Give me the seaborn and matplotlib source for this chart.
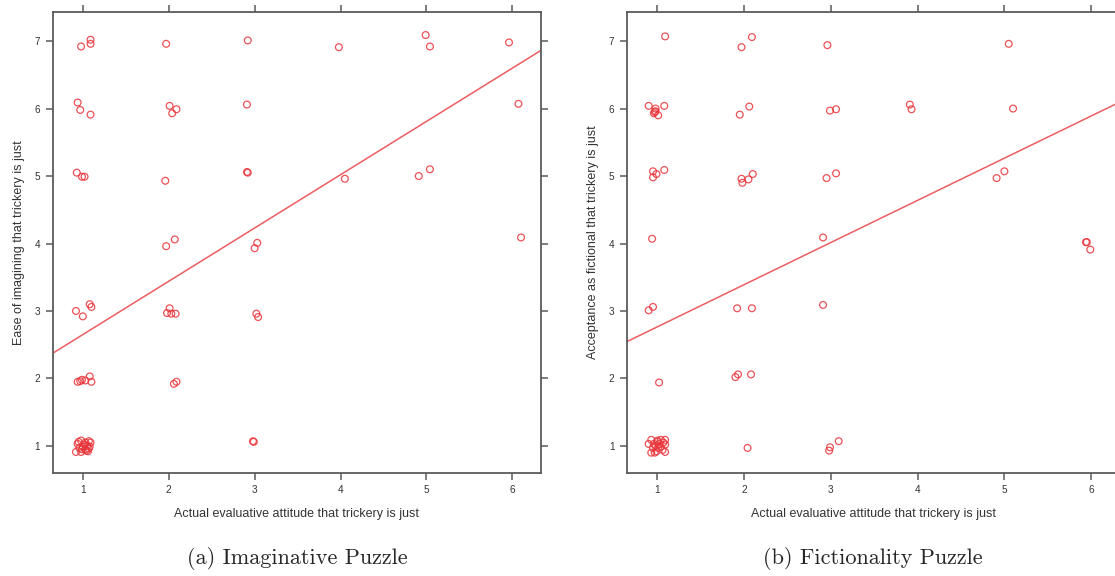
import matplotlib
matplotlib.use("Agg")
import matplotlib.pyplot as plt
import seaborn as sns

# panel (a): imaginative puzzle, jittered responses
imag_x = [0.98, 1.09, 1.09, 1.97, 2.92, 3.98, 4.99, 5.04, 5.96,
          0.94, 0.97, 1.09, 2.01, 2.09, 2.04, 2.91, 6.07,
          0.93, 0.99, 1.02, 1.96, 2.91, 2.92, 4.05, 4.91, 5.04,
          1.97, 2.07, 3.00, 3.03, 6.10,
          0.92, 1.00, 1.08, 1.10, 2.01, 1.98, 2.03, 2.08, 3.02, 3.04,
          0.94, 0.97, 0.99, 1.08, 1.10, 1.03, 2.06, 2.09,
          2.98, 2.99,
          0.92, 0.98, 0.94, 1.00, 1.03, 1.07, 1.08, 1.06, 0.98, 1.03,
          1.09, 1.02, 0.96, 1.05, 0.99, 1.07, 0.95, 1.04]
imag_y = [6.92, 7.02, 6.96, 6.96, 7.01, 6.91, 7.09, 6.92, 6.98,
          6.09, 5.98, 5.91, 6.04, 5.99, 5.93, 6.06, 6.07,
          5.05, 4.99, 4.99, 4.93, 5.06, 5.05, 4.96, 5.00, 5.10,
          3.96, 4.06, 3.93, 4.01, 4.09,
          3.00, 2.92, 3.10, 3.06, 3.04, 2.97, 2.96, 2.96, 2.96, 2.91,
          1.95, 1.96, 1.98, 2.03, 1.95, 1.97, 1.92, 1.95,
          1.07, 1.06,
          0.91, 1.08, 1.03, 0.99, 1.05, 1.07, 0.99, 0.92, 0.91, 0.95,
          1.05, 1.02, 0.97, 1.00, 0.95, 0.96, 1.06, 0.93]

# panel (b): fictionality puzzle
fict_x = [1.09, 1.97, 2.09, 2.96, 5.05,
          0.90, 0.98, 0.97, 0.96, 1.01, 0.98, 1.08, 1.95, 2.06, 2.99, 3.06,
          3.91, 3.93, 5.10,
          0.95, 0.99, 0.95, 1.08, 1.97, 1.98, 2.05, 2.10, 2.95, 3.06, 4.91, 5.00,
          0.94, 2.91, 5.94, 5.95, 5.99,
          0.90, 0.95, 1.92, 2.09, 2.91,
          1.02, 1.90, 1.93, 2.08,
          2.04, 2.99, 2.98, 3.09,
          0.93, 0.90, 0.93, 0.97, 1.00, 1.02, 1.04, 1.09, 1.09, 1.09, 0.98,
          1.04, 0.96, 1.01, 1.07, 0.95, 0.99, 1.06, 1.00]
fict_y = [7.07, 6.91, 7.06, 6.94, 6.96,
          6.04, 6.00, 5.95, 5.93, 5.90, 5.96, 6.04, 5.91, 6.03, 5.97, 5.99,
          6.06, 5.99, 6.00,
          5.07, 5.03, 4.98, 5.09, 4.96, 4.90, 4.95, 5.03, 4.97, 5.04, 4.97, 5.07,
          4.07, 4.09, 4.02, 4.02, 3.91,
          3.01, 3.06, 3.04, 3.04, 3.09,
          1.94, 2.02, 2.06, 2.06,
          0.97, 0.98, 0.93, 1.07,
          1.09, 1.03, 0.90, 0.90, 1.08, 1.03, 1.09, 1.09, 1.02, 0.91, 1.00,
          0.99, 1.03, 0.97, 1.05, 0.97, 0.92, 0.94, 1.06]

# fitted regression lines (intercept, slope)
imag_fit = (1.86, 0.79)
fict_fit = (2.14, 0.625)

ticks = [1, 2, 3, 4, 5, 6, 7]
x_label = "Actual evaluative attitude that trickery is just"
y_labels = ["Ease of imagining that trickery is just",
            "Acceptance as fictional that trickery is just"]
captions = ["(a) Imaginative Puzzle", "(b) Fictionality Puzzle"]

sns.set_style("white")
plt.rcParams['font.family'] = ['Liberation Sans', 'DejaVu Sans']

red = "#e8343a"
frame = "#5a5a5a"

fig = plt.figure(figsize=(11.15, 5.76), dpi=100)
ax1 = fig.add_axes([0.0473, 0.179, 0.4377, 0.800])
ax2 = fig.add_axes([0.5623, 0.179, 0.4420, 0.800])

panels = [(ax1, imag_x, imag_y, imag_fit), (ax2, fict_x, fict_y, fict_fit)]
for i, (ax, xs, ys, fit) in enumerate(panels):
    sns.scatterplot(x=xs, y=ys, ax=ax, marker="o", s=24, facecolor="none",
                    edgecolor=red, linewidth=0.9, alpha=0.85, zorder=3)
    ax.axline((0, fit[0]), slope=fit[1], color=red, lw=1.1, alpha=0.8)
    ax.set_xlim(0.65, 6.33)
    ax.set_ylim(0.6, 7.43)
    ax.set_xticks(ticks[:6])
    ax.set_yticks(ticks)
    ax.tick_params(direction="out", length=5, width=1.1, color=frame,
                   labelsize=7.2, labelcolor="#333333", pad=4,
                   top=True, right=True, bottom=True, left=True)
    for s in ax.spines.values():
        s.set_color(frame)
        s.set_linewidth(1.3)
    ax.set_xlabel(x_label, fontsize=9, color="#333333", labelpad=9)
    ax.set_ylabel(y_labels[i], fontsize=9, color="#333333", labelpad=7)

ax2.spines["right"].set_visible(False)
ax2.tick_params(right=False)

fig.text(0.2662, 0.031, captions[0], family="cmr10", fontsize=16,
         ha="center", va="center")
fig.text(0.7830, 0.031, captions[1], family="cmr10", fontsize=16,
         ha="center", va="center")

fig.savefig("out.png", dpi=100)
plt.close(fig)
